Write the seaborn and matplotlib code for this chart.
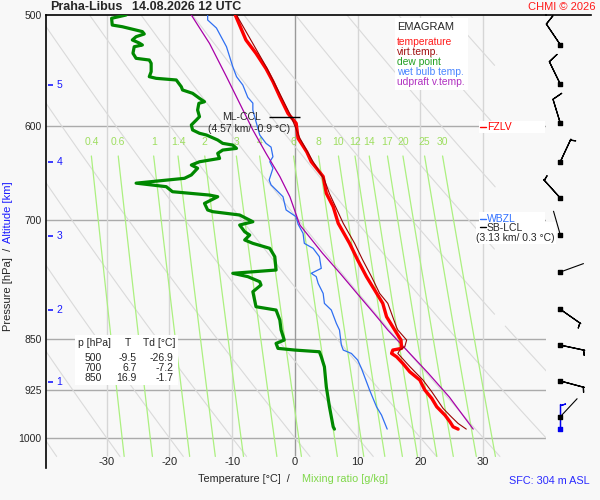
import numpy as np
import matplotlib
matplotlib.use("Agg")
import matplotlib.pyplot as plt
from matplotlib.patches import Rectangle
from matplotlib.lines import Line2D
from matplotlib.ticker import NullLocator
import seaborn as sns

# sounding Praha-Libus 14.08.2026 12 UTC
p_temp = [500, 520.9, 532.4, 546.0, 557.7, 571.7, 587.6, 597.1, 612.0, 618.8,
          625.9, 635.9, 651.6, 669.7, 684.6, 703.5, 726.9, 747.1, 767.8, 784.8,
          802.2, 819.9, 838.0, 851.9, 863.6, 866.0, 870.8, 875.6, 885.2, 897.4,
          909.6, 924.7, 937.4, 950.4, 963.4, 974.0, 982.1, 985.8]
temp = [-9.5, -7.8, -6.2, -4.6, -3.5, -2.4, -1.1, 0.2, 0.5, 1.2,
        1.9, 2.6, 4.5, 5.0, 6.1, 6.9, 8.7, 10.0, 11.4, 12.7,
        14.0, 14.6, 15.9, 16.9, 17.0, 15.6, 15.4, 16.2, 17.2, 18.3,
        19.9, 20.7, 21.8, 22.6, 23.9, 24.7, 25.2, 26.0]

p_virt = [500, 546, 588, 612, 636, 655, 670, 703.5, 726.9, 747.1,
          767.8, 789.2, 802.2, 834.4, 838, 851.9, 861.3, 866, 870.8, 889.7,
          909.6, 927.2, 952.8, 966.0, 976.7, 985.8]
virt = [-9.3, -4.4, -0.8, 0.8, 2.9, 4.7, 5.5, 7.7, 9.5, 10.8,
        12.2, 13.5, 14.8, 16.2, 16.4, 17.8, 17.5, 16.7, 16.4, 18.3,
        20.4, 21.8, 23.6, 24.9, 26.0, 27.3]

p_dew = [500, 502.7, 508.3, 509.7, 513.8, 515.8, 518.1, 520.9, 523.5, 525.2,
         526.7, 532.4, 536.8, 538.3, 541.2, 548.7, 553.2, 554.7, 556.2, 562.4,
         565.4, 568.5, 573.2, 576.4, 577.9, 584.3, 590.7, 593.9, 598.8, 603.7,
         607.0, 608.7, 613.7, 617.1, 618.8, 622.2, 623.9, 627.3, 632.5, 636.0,
         639.4, 642.8, 649.9, 653.5, 658.7, 662.5, 668.0, 671.7, 673.5, 680.9,
         688.3, 690.2, 694.0, 701.7, 705.5, 713.3, 717.2, 723.0, 727.0, 733.0,
         743.1, 759.5, 763.6, 767.8, 774.2, 778.4, 787.0, 806.6, 811.0, 824.4,
         838.0, 851.9, 856.6, 863.6, 866.0, 868.4, 875.5, 890.1, 919.7, 950.3,
         982.1, 985.8]
dew = [-26.9, -29.2, -29.1, -27.5, -24.3, -24.0, -25.3, -25.9, -24.8, -24.3,
       -25.6, -25.8, -25.3, -23.2, -22.9, -22.9, -23.2, -22.1, -18.9, -18.1,
       -17.9, -16.3, -15.2, -14.4, -15.3, -15.5, -15.2, -15.7, -16.5, -16.3,
       -15.2, -14.1, -12.3, -11.5, -9.9, -9.3, -11.5, -12.3, -12.0, -15.2,
       -16.5, -15.5, -16.5, -17.6, -25.3, -20.5, -19.5, -13.6, -12.3, -14.4,
       -13.9, -13.1, -8.8, -6.7, -8.8, -8.0, -7.2, -8.0, -6.7, -4.0,
       -3.2, -3.0, -9.9, -7.5, -5.6, -5.4, -6.7, -6.2, -3.0, -2.4,
       -2.2, -1.7, -3.0, -2.7, 0.0, 3.9, 4.2, 4.7, 5.0, 5.5,
       6.1, 6.3]

p_wetbulb = [500, 504.1, 510.8, 526.7, 544.2, 553.2, 560.8, 572.4, 577.7, 584.3,
             595.5, 608.7, 617.1, 620.9, 630.8, 636.0, 642.8, 655.3, 660.6, 668.0,
             673.5, 688.3, 696.0, 704.4, 715.2, 727.0, 733.0, 743.1, 757.4, 763.6,
             767.8, 776.3, 789.2, 802.2, 811.0, 828.9, 838.0, 858.9, 866.0, 870.8,
             880.3, 892.4, 924.7, 950.4, 963.4, 985.8]
wetbulb = [-13.9, -13.9, -12.5, -10.9, -9.9, -9.3, -8.3, -7.5, -6.7, -6.7,
           -6.2, -5.6, -4.6, -3.8, -3.5, -4.0, -3.5, -4.1, -3.8, -2.7,
           -1.9, -1.4, 0.2, 0.5, 1.3, 1.5, 2.9, 3.9, 4.2, 2.6,
           3.4, 3.7, 4.5, 4.7, 5.8, 6.6, 7.1, 7.4, 7.7, 9.0,
           10.0, 10.6, 11.9, 13.0, 13.8, 14.7]

p_updraft = [500, 523.9, 553.2, 577.9, 603.7, 627.3, 651.6, 673.5, 699.7, 705.5,
             738.9, 763.6, 789.2, 815.4, 838.0, 866.0, 899.0, 935.3, 985.8]
updraft = [-16.5, -13.6, -10.9, -8.8, -6.7, -4.6, -2.4, -0.8, 0.5, 0.8,
           4.4, 7.2, 9.9, 12.6, 14.8, 17.8, 21.2, 24.6, 28.4]

# wind every 0.5 km (direction deg, speed kt), surface wind separately
wind_p = [525, 560, 597, 636, 675, 717, 762, 810, 859, 911, 966]
wind_dir = [326, 334, 343, 25, 318, 344, 70, 125, 102, 105, 43]
wind_kt = [10, 10, 10, 5, 5, 2, 2, 5, 5, 5, 2]
sfc_p, sfc_dir, sfc_kt = 986, 360, 5

alt_km = [1, 2, 3, 4, 5]
alt_p = [912.6, 811.0, 718.4, 636.3, 560.8]

p_levels = [500, 600, 700, 850, 925, 1000]
t_ticks = [-30, -20, -10, 0, 10, 20, 30]
mix_ratios = [0.4, 0.6, 1, 1.4, 2, 3, 4, 6, 8, 10, 12, 14, 17, 20, 25, 30]
theta_c = list(range(-40, 100, 10))

tab_p = [500, 700, 850]
tab_t = [-9.5, 6.7, 16.9]
tab_td = [-26.9, -7.2, -1.7]

ccl_p = 591.3

sns.set_style("white")
plt.rcParams["font.family"] = ["Liberation Sans", "DejaVu Sans"]

BG = "#f8f8f8"


def fx(px):
    return px / 600


def fy(py):
    return 1 - py / 500


fig = plt.figure(figsize=(6, 5), dpi=100, facecolor=BG)
ax = fig.add_axes([fx(45.7), fy(467.6), fx(546) - fx(45.7), fy(15) - fy(467.6)])
ax.set_facecolor(BG)
ax.set_yscale("log")
ax.set_xlim(-39.7, 40)
ax.set_ylim(1050, 500)

# background grid
ax.hlines(p_levels[1:], -39.7, 40, color="#ababab", lw=1, zorder=1)
ax.vlines([t for t in t_ticks if t != 0], 500, 1031, color="#d6d6d6", lw=1, zorder=1)
ax.vlines(0, 500, 1031, color="#9a9a9a", lw=1, zorder=1)

# dry adiabats
p_line = np.geomspace(500, 1031, 150)
for th in theta_c:
    tt = (th + 273.15) * (p_line / 1000) ** 0.286 - 273.15
    tt = np.where((tt <= 32) | (p_line >= 830), tt, np.nan)
    ax.plot(tt, p_line, color="#dadada", lw=0.8, zorder=1)


# mixing ratio lines
def dewpoint_of_w(w, p):
    e = w * p / (622 + w)
    a = np.log(e / 6.112)
    return 243.5 * a / (17.67 - a)


p_mix = np.geomspace(630, 1031, 60)
for w in mix_ratios:
    ax.plot(dewpoint_of_w(w, p_mix), p_mix, color="#acf080", lw=0.9, zorder=1)
    ax.text(dewpoint_of_w(w, 630), 616, f"{w:g}", color="#9ede60", fontsize=7.5,
            ha="center", va="center", zorder=2)

# profiles
sns.lineplot(x=dew, y=p_dew, sort=False, estimator=None, color="#008800", lw=2.3, ax=ax, zorder=4)
sns.lineplot(x=wetbulb, y=p_wetbulb, sort=False, estimator=None, color="#2f6ff2", lw=0.9, ax=ax, zorder=4)
sns.lineplot(x=updraft, y=p_updraft, sort=False, estimator=None, color="#a800a8", lw=0.9, ax=ax, zorder=4)
sns.lineplot(x=temp, y=p_temp, sort=False, estimator=None, color="#ff0000", lw=2.4, ax=ax, zorder=5)
sns.lineplot(x=virt, y=p_virt, sort=False, estimator=None, color="#990000", lw=0.8, ax=ax, zorder=5)

# ML-CCL marker
ax.hlines(ccl_p, -4.2, 0.8, color="black", lw=1, zorder=6)

# altitude ticks
ax.hlines(alt_p, -39.4, -38.6, color="#1a1aff", lw=1.2, zorder=6, clip_on=False)
for km, pk in zip(alt_km, alt_p):
    ax.text(-38.0, pk, str(km), color="#1a1aff", fontsize=7.5, ha="left", va="center", zorder=6)

# axes
ax.set_yticks(p_levels, labels=[str(p) for p in p_levels])
ax.yaxis.set_minor_locator(NullLocator())
ax.set_xticks([])
ax.tick_params(axis="y", length=0, pad=3, labelsize=7.5)
for t in t_ticks:
    ax.text(t, 1040, str(t), ha="center", va="center", fontsize=8, clip_on=False)
ax.set_xlabel("")
ax.set_ylabel("")
for s in ["right", "bottom"]:
    ax.spines[s].set_visible(False)
for s in ["left", "top"]:
    ax.spines[s].set_color("black")
    ax.spines[s].set_linewidth(1.2)

# wind barbs column
wax = fig.add_axes([fx(546), fy(467.6), fx(591) - fx(546), fy(15) - fy(467.6)])
wax.set_facecolor("none")
wax.set_yscale("log")
wax.set_ylim(1050, 500)
wax.set_xlim(0, 1)
wax.set_xticks([])
wax.set_yticks([])
wax.yaxis.set_minor_locator(NullLocator())
for s in ["left", "right", "bottom"]:
    wax.spines[s].set_visible(False)
wax.spines["top"].set_color("black")
wax.spines["top"].set_linewidth(1.2)

bx = 0.318
wdir = np.deg2rad(wind_dir)
wspd = np.array(wind_kt, dtype=float)
wp = np.array(wind_p, dtype=float)
strong = wspd >= 5
u = -wspd * np.sin(wdir)
v = -wspd * np.cos(wdir)
barb_sizes = dict(spacing=0.03)
wax.barbs(np.full(strong.sum(), bx), wp[strong], u[strong], v[strong],
          length=6, color="black", linewidth=0.9, sizes=barb_sizes, clip_on=False)
wax.quiver(np.full((~strong).sum(), bx), wp[~strong],
           25 * np.sin(wdir[~strong]), 25 * np.cos(wdir[~strong]),
           angles="uv", scale_units="dots", scale=1, units="dots", width=1.1,
           headwidth=0, headlength=0, headaxislength=0, pivot="tail", color="black")
sd = np.deg2rad(sfc_dir)
wax.barbs([bx], [sfc_p], [-sfc_kt * np.sin(sd)], [-sfc_kt * np.cos(sd)],
          length=6, color="#0000ee", linewidth=0.9, sizes=barb_sizes, clip_on=False)
wax.scatter(np.full(len(wp), bx), wp, marker="s", s=5, color="black", zorder=5)
wax.scatter([bx], [sfc_p], marker="s", s=5, color="#0000ee", zorder=5)

# title, credits, axis labels
fig.text(fx(50), fy(7.5), "Praha-Libus", fontsize=9, fontweight="bold", va="center")
fig.text(fx(131.5), fy(7.5), "14.08.2026 12 UTC", fontsize=9, fontweight="bold", va="center")
fig.text(fx(596), fy(7.5), "CHMI \u00a9 2026", fontsize=8, color="#ff1a1a", ha="right", va="center")
fig.text(fx(197.5), fy(478.5), "Temperature [\u00b0C]  /", fontsize=7.8, va="center")
fig.text(fx(302.5), fy(479), "Mixing ratio [g/kg]", fontsize=7.8, color="#7fd84a", va="center")
fig.text(fx(590), fy(481), "SFC: 304 m ASL", fontsize=7.8, color="#2a2aff", ha="right", va="center")
fig.text(fx(8), fy(243), "Altitude [km]", fontsize=8, color="#1a1aff", rotation=90,
         ha="center", va="bottom")
fig.text(fx(8), fy(248), "Pressure [hPa]  /", fontsize=8, rotation=90, ha="center", va="top")

# legend box
fig.add_artist(Rectangle((fx(395), fy(90)), fx(468) - fx(395), fy(18) - fy(90),
                         transform=fig.transFigure, fc="white", ec="none", zorder=2))
fig.text(fx(397), fy(26.5), "EMAGRAM", fontsize=8, va="center")
leg = [("temperature", "#ff1a1a"), ("virt.temp.", "#a01010"), ("dew point", "#22a022"),
       ("wet bulb temp.", "#4a86ff"), ("udpraft v.temp.", "#b030c0")]
for i, (name, col) in enumerate(leg):
    fig.text(fx(397), fy(42.3 + 9.9 * i), name, fontsize=7.4, color=col, va="center")

# ML-CCL label
fig.text(fx(241.5), fy(117.5), "ML-CCL", fontsize=7.5, ha="center", va="center")
fig.text(fx(249.5), fy(128.5), "(4.57 km/ -0.9 \u00b0C)", fontsize=7.5, ha="center", va="center")

# FZLV
fig.add_artist(Rectangle((fx(479), fy(133)), fx(545) - fx(479), fy(121) - fy(133),
                         transform=fig.transFigure, fc="white", ec="none", zorder=2))
fig.add_artist(Line2D([fx(480), fx(486)], [fy(127), fy(127)], transform=fig.transFigure,
                      color="#ff0000", lw=1, zorder=3))
fig.text(fx(487), fy(127.5), "FZLV", fontsize=7.5, color="#ff0000", va="center", zorder=4)

# WBZL and SB-LCL
fig.add_artist(Rectangle((fx(479), fy(222)), fx(545) - fx(479), fy(212) - fy(222),
                         transform=fig.transFigure, fc="white", ec="none", zorder=2))
fig.add_artist(Line2D([fx(480), fx(486)], [fy(218.7), fy(218.7)], transform=fig.transFigure,
                      color="#3070ff", lw=1, zorder=3))
fig.text(fx(487), fy(219.5), "WBZL", fontsize=7.5, color="#3070ff", va="center", zorder=3)
fig.add_artist(Rectangle((fx(476), fy(244)), fx(556) - fx(476), fy(222) - fy(244),
                         transform=fig.transFigure, fc="white", ec="none", zorder=4))
fig.add_artist(Line2D([fx(480), fx(486)], [fy(226.7), fy(226.7)], transform=fig.transFigure,
                      color="black", lw=1, zorder=5))
fig.text(fx(487), fy(227.5), "SB-LCL", fontsize=7.5, va="center", zorder=5)
fig.text(fx(476.5), fy(238), "(3.13 km/ 0.3 \u00b0C)", fontsize=7.5, va="center", zorder=5)

# table of standard levels
fig.add_artist(Rectangle((fx(75), fy(385)), fx(178) - fx(75), fy(335) - fy(385),
                         transform=fig.transFigure, fc="white", ec="none", zorder=2))
fig.text(fx(78), fy(343.5), "p [hPa]", fontsize=7.5, va="center")
fig.text(fx(127.5), fy(343.5), "T", fontsize=7.5, ha="center", va="center")
fig.text(fx(143), fy(343.5), "Td [\u00b0C]", fontsize=7.5, va="center")
for i, (pp, tt, dd) in enumerate(zip(tab_p, tab_t, tab_td)):
    yy = fy(358.3 + 10 * i)
    fig.text(fx(101.7), yy, str(pp), fontsize=7.5, ha="right", va="center")
    fig.text(fx(136.7), yy, f"{tt:.1f}", fontsize=7.5, ha="right", va="center")
    fig.text(fx(173.3), yy, f"{dd:.1f}", fontsize=7.5, ha="right", va="center")

fig.savefig("out.png", dpi=100, facecolor=BG)
